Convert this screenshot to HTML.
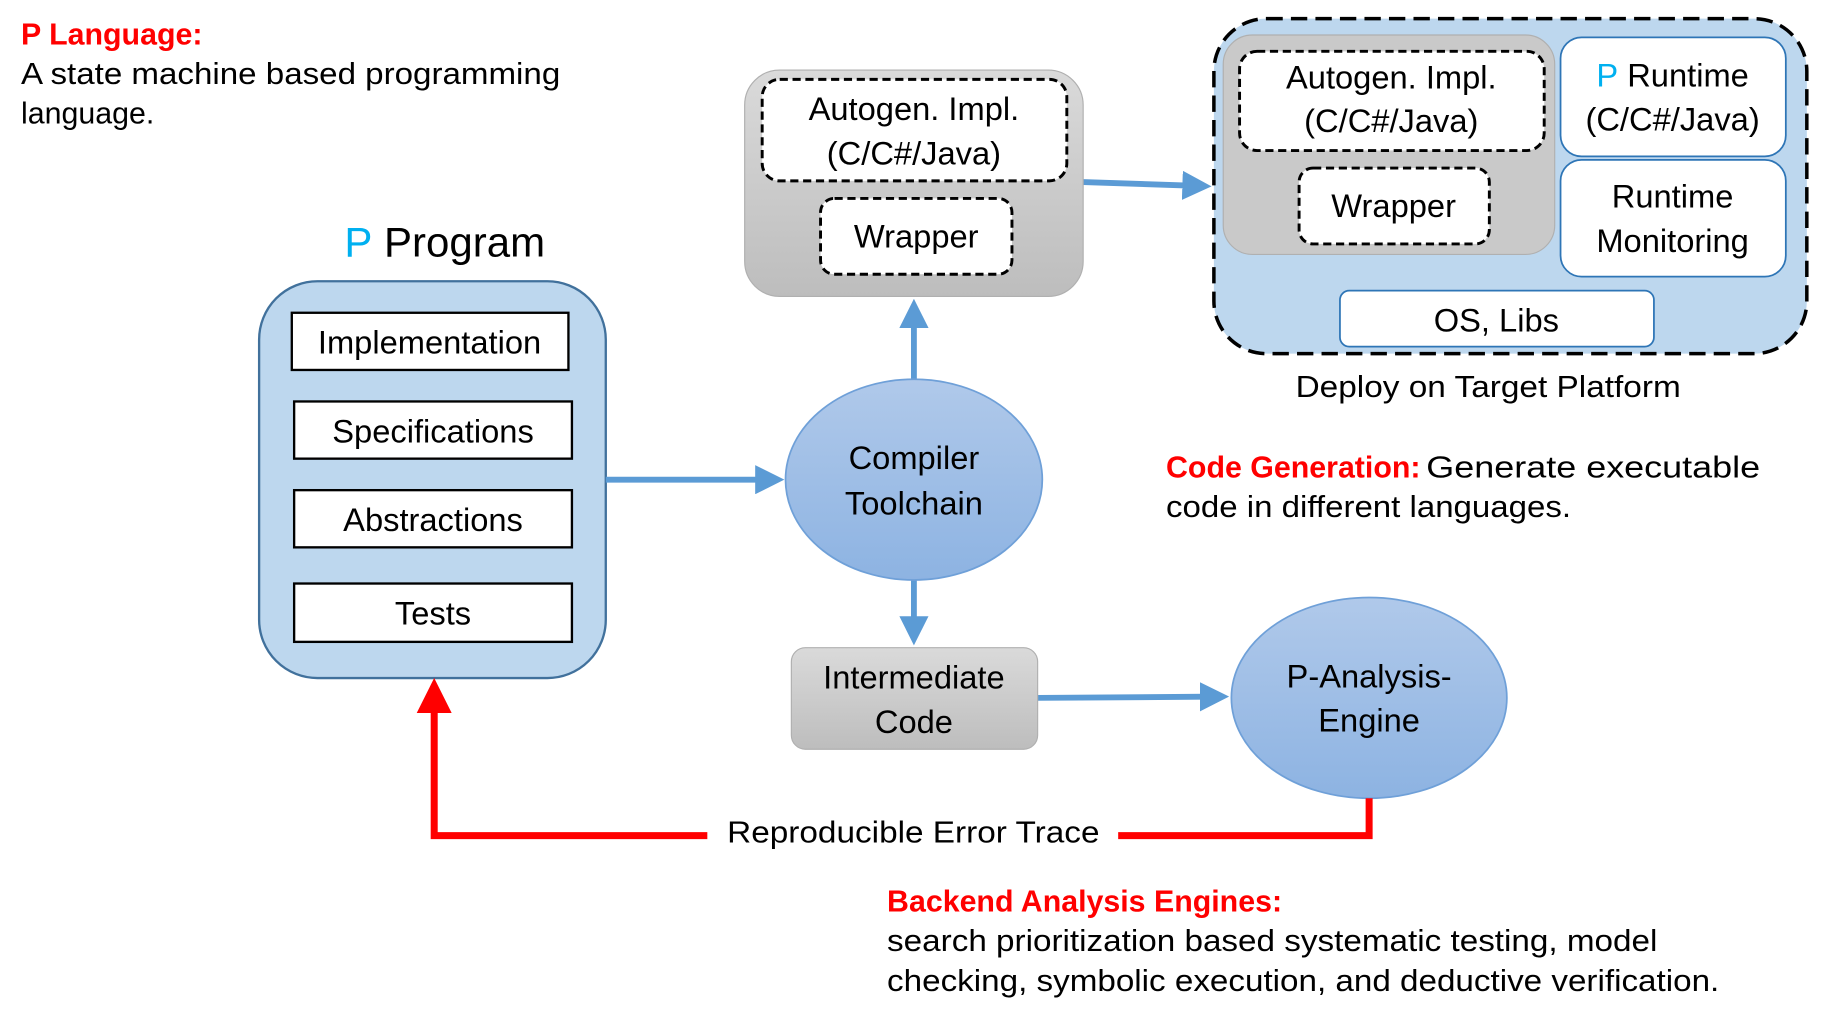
<!DOCTYPE html>
<html><head><meta charset="utf-8"><style>
html,body{margin:0;padding:0;background:#fff;}
svg{display:block;}
text{font-family:"Liberation Sans",sans-serif;fill:#000;}
</style></head><body>
<svg width="1829" height="1020" viewBox="0 0 1567 874" preserveAspectRatio="none" xmlns="http://www.w3.org/2000/svg">
<defs>
<linearGradient id="gg" x1="0" y1="0" x2="0" y2="1"><stop offset="0" stop-color="#dadada"/><stop offset="1" stop-color="#bdbdbd"/></linearGradient>
<linearGradient id="bg" x1="0" y1="0" x2="0" y2="1"><stop offset="0" stop-color="#b0c9ea"/><stop offset="1" stop-color="#8db3e2"/></linearGradient>
<marker id="ab" markerWidth="5" markerHeight="5" refX="1" refY="2.5" orient="auto" markerUnits="strokeWidth"><path d="M0,0 L5,2.5 L0,5 z" fill="#5b9bd5"/></marker>
<marker id="ar" markerWidth="5" markerHeight="5" refX="1" refY="2.5" orient="auto" markerUnits="strokeWidth"><path d="M0,0 L5,2.5 L0,5 z" fill="#ff0000"/></marker>
</defs>

<text x="18" y="38" font-size="26" font-weight="bold" style="fill:#ff0000">P Language:</text>
<text x="18" y="72" font-size="26" textLength="462" lengthAdjust="spacingAndGlyphs">A state machine based programming</text>
<text x="18" y="106" font-size="26">language.</text>

<text x="295" y="220" font-size="36"><tspan style="fill:#00b0f0">P</tspan> Program</text>
<rect x="222" y="241" width="297" height="340" rx="50" fill="#bdd7ee" stroke="#41719c" stroke-width="2"/>
<g fill="#fff" stroke="#000" stroke-width="2">
<rect x="250" y="268" width="237" height="49"/>
<rect x="252" y="344" width="238" height="49"/>
<rect x="252" y="420" width="238" height="49"/>
<rect x="252" y="500" width="238" height="50"/>
</g>
<g font-size="28" text-anchor="middle">
<text x="368" y="303">Implementation</text>
<text x="371" y="379">Specifications</text>
<text x="371" y="455">Abstractions</text>
<text x="371" y="535">Tests</text>
</g>

<g stroke="#5b9bd5" stroke-width="5" fill="none">
<line x1="519" y1="411" x2="652" y2="411" marker-end="url(#ab)"/>
<line x1="783" y1="326" x2="783" y2="276" marker-end="url(#ab)"/>
<line x1="928" y1="156" x2="1018" y2="159" marker-end="url(#ab)"/>
<line x1="783" y1="497" x2="783" y2="533" marker-end="url(#ab)"/>
<line x1="889" y1="598" x2="1033" y2="597" marker-end="url(#ab)"/>
</g>

<ellipse cx="783" cy="411" rx="110" ry="86" fill="url(#bg)" stroke="#6fa0d8" stroke-width="1.5"/>
<g font-size="28" text-anchor="middle">
<text x="783" y="402">Compiler</text>
<text x="783" y="441">Toolchain</text>
</g>

<rect x="638" y="60" width="290" height="194" rx="30" fill="url(#gg)" stroke="#b0b0b0" stroke-width="1"/>
<g fill="#fff" stroke="#000" stroke-width="2.5" stroke-dasharray="7,4">
<rect x="653" y="68" width="261" height="87" rx="15"/>
<rect x="703" y="170" width="164" height="65" rx="12"/>
</g>
<g font-size="28" text-anchor="middle">
<text x="783" y="103">Autogen. Impl.</text>
<text x="783" y="141">(C/C#/Java)</text>
<text x="785" y="212">Wrapper</text>
</g>

<rect x="1040" y="16" width="508" height="287" rx="45" fill="#bdd7ee" stroke="#000" stroke-width="3" stroke-dasharray="14,7"/>
<rect x="1048" y="30" width="284" height="188" rx="25" fill="#c9c9c9" stroke="#b0b0b0" stroke-width="1"/>
<g fill="#fff" stroke="#000" stroke-width="2.5" stroke-dasharray="7,4">
<rect x="1062" y="44" width="261" height="85" rx="15"/>
<rect x="1113" y="144" width="163" height="65" rx="12"/>
</g>
<g fill="#fff" stroke="#2e75b6" stroke-width="1.5">
<rect x="1337" y="32" width="193" height="102" rx="18"/>
<rect x="1337" y="137" width="193" height="100" rx="18"/>
<rect x="1148" y="249" width="269" height="48" rx="8"/>
</g>
<g font-size="28" text-anchor="middle">
<text x="1192" y="76">Autogen. Impl.</text>
<text x="1192" y="113">(C/C#/Java)</text>
<text x="1194" y="186">Wrapper</text>
<text x="1433" y="74"><tspan style="fill:#00b0f0">P</tspan> Runtime</text>
<text x="1433" y="112">(C/C#/Java)</text>
<text x="1433" y="178">Runtime</text>
<text x="1433" y="216">Monitoring</text>
<text x="1282" y="284">OS, Libs</text>
</g>
<text x="1110" y="340" font-size="26" textLength="330" lengthAdjust="spacingAndGlyphs">Deploy on Target Platform</text>

<text x="999" y="409" font-size="26" font-weight="bold" style="fill:#ff0000">Code Generation:</text>
<text x="1222" y="409" font-size="26" textLength="286" lengthAdjust="spacingAndGlyphs">Generate executable</text>
<text x="999" y="443" font-size="26" textLength="347" lengthAdjust="spacingAndGlyphs">code in different languages.</text>

<rect x="678" y="555" width="211" height="87" rx="12" fill="url(#gg)" stroke="#b0b0b0" stroke-width="1"/>
<g font-size="28" text-anchor="middle">
<text x="783" y="590">Intermediate</text>
<text x="783" y="628">Code</text>
</g>

<ellipse cx="1173" cy="598" rx="118" ry="86" fill="url(#bg)" stroke="#6fa0d8" stroke-width="1.5"/>
<g font-size="28" text-anchor="middle">
<text x="1173" y="589">P-Analysis-</text>
<text x="1173" y="627">Engine</text>
</g>

<g stroke="#ff0000" stroke-width="6" fill="none">
<polyline points="1173,684 1173,716 958,716"/>
<polyline points="606,716 372,716 372,605" marker-end="url(#ar)"/>
</g>
<text x="623" y="722" font-size="26" textLength="319" lengthAdjust="spacingAndGlyphs">Reproducible Error Trace</text>

<text x="760" y="781" font-size="26" font-weight="bold" style="fill:#ff0000">Backend Analysis Engines:</text>
<text x="760" y="815" font-size="26" textLength="660" lengthAdjust="spacingAndGlyphs">search prioritization based systematic testing, model</text>
<text x="760" y="849" font-size="26" textLength="713" lengthAdjust="spacingAndGlyphs">checking, symbolic execution, and deductive verification.</text>
</svg>
</body></html>
